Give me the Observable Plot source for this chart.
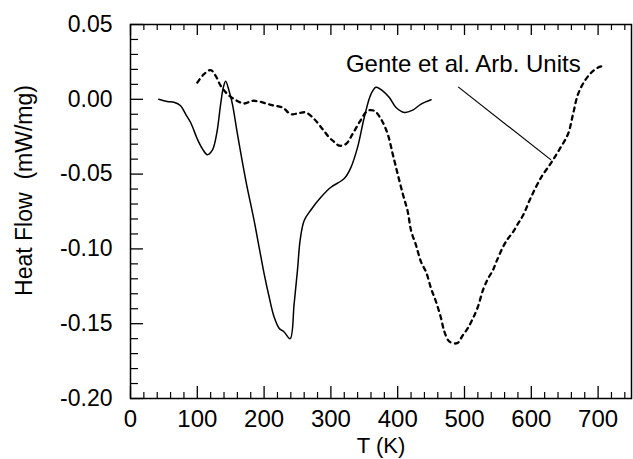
<!DOCTYPE html>
<html>
<head>
<meta charset="utf-8">
<script src="https://cdn.jsdelivr.net/npm/d3@7"></script>
<script src="https://cdn.jsdelivr.net/npm/@observablehq/plot@0.6"></script>
<style>
  html, body { margin: 0; padding: 0; background: white; }
</style>
</head>
<body>
<div id="chart"></div>
<script>
// Measured DSC curve (solid)
const solidT = [42.5, 55, 65, 75, 82.5, 90, 100, 107.5, 115, 122.5, 129, 135, 139, 142.5, 147.5, 152.5, 160, 172.5, 185, 192.5, 200, 207.5, 215, 222.5, 230, 239, 245, 250, 254, 260, 270, 285, 300, 320, 330, 340, 350, 360, 367.5, 377.5, 387.5, 397.5, 410, 422.5, 435, 450];
const solidH = [0, -0.0015, -0.002, -0.0043, -0.0099, -0.0155, -0.0265, -0.033, -0.037, -0.034, -0.023, -0.003, 0.008, 0.012, 0.0057, -0.003, -0.023, -0.054, -0.081, -0.0988, -0.1165, -0.132, -0.1455, -0.153, -0.1555, -0.160, -0.1365, -0.114, -0.094, -0.081, -0.074, -0.0655, -0.0588, -0.053, -0.0455, -0.032, -0.012, 0.0035, 0.008, 0.0057, 0.0012, -0.0055, -0.0088, -0.0072, -0.0032, -0.0003];

// Gente et al. curve (dashed, arbitrary units)
const dashT = [100, 110, 120, 127.5, 135, 145, 157.5, 170, 182.5, 192.5, 210, 227.5, 240, 252.5, 262.5, 275, 287.5, 297.5, 305, 312.5, 322.5, 332.5, 342.5, 355, 365, 375, 385, 392.5, 400, 407.5, 415, 420, 427.5, 435, 442.5, 450, 457.5, 465, 470, 477.5, 489, 497.5, 505, 512.5, 520, 527.5, 535, 542.5, 547.5, 557.5, 565, 572.5, 580, 587.5, 600, 615, 625, 632.5, 642.5, 655, 662.5, 670, 680, 690, 700, 707.5];
const dashH = [0.0112, 0.0168, 0.0195, 0.0157, 0.009, 0.0035, -0.0005, -0.0028, -0.001, -0.0015, -0.0037, -0.0055, -0.0099, -0.0092, -0.0088, -0.0132, -0.0199, -0.0255, -0.0285, -0.031, -0.0299, -0.0232, -0.0155, -0.0077, -0.0077, -0.0132, -0.0232, -0.0365, -0.050, -0.063, -0.075, -0.0877, -0.0977, -0.1088, -0.1155, -0.1265, -0.1355, -0.1465, -0.1555, -0.162, -0.163, -0.1577, -0.153, -0.1465, -0.1388, -0.1277, -0.120, -0.1143, -0.1088, -0.0988, -0.0932, -0.0888, -0.0832, -0.0777, -0.065, -0.052, -0.0455, -0.0405, -0.0332, -0.0232, -0.0099, 0.0035, 0.0123, 0.0179, 0.0212, 0.0223];

// Ticks
const xMajor = [0, 100, 200, 300, 400, 500, 600, 700];
const xMinor = [20, 40, 60, 80, 120, 140, 160, 180, 220, 240, 260, 280, 320, 340, 360, 380, 420, 440, 460, 480, 520, 540, 560, 580, 620, 640, 660, 680, 720, 740];
const yMajor = [0.05, 0, -0.05, -0.10, -0.15, -0.20];
const yMinor = [0.04, 0.03, 0.02, 0.01, -0.01, -0.02, -0.03, -0.04, -0.06, -0.07, -0.08, -0.09, -0.11, -0.12, -0.13, -0.14, -0.16, -0.17, -0.18, -0.19];

// Annotation
const annotation = [{x: 322.5, y: 0.0185, text: "Gente et al. Arb. Units"}];
const pointer = [{x1: 490.5, y1: 0.0083, x2: 629.5, y2: -0.0405}];

const xLabel = "T (K)";
const yLabel = "Heat Flow  (mW/mg)";

const solid = solidT.map((t, i) => ({T: t, H: solidH[i]}));
const dashed = dashT.map((t, i) => ({T: t, H: dashH[i]}));

const W = 633, H = 459, ML = 130, MR = 2, MT = 24, MB = 61;
const FW = W - ML - MR, FH = H - MT - MB;
const FS = 23;

const chart = Plot.plot({
  width: W,
  height: H,
  marginLeft: ML,
  marginRight: MR,
  marginTop: MT,
  marginBottom: MB,
  style: {fontFamily: "'Liberation Sans', Arial, Helvetica, sans-serif", fontSize: FS + "px", background: "white", color: "black"},
  x: {domain: [0, 750]},
  y: {domain: [-0.2, 0.05]},
  marks: [
    // inward ticks bottom
    Plot.tickX(xMajor, {x: d => d, insetTop: FH - 12, stroke: "black", strokeWidth: 1.3}),
    Plot.tickX(xMinor, {x: d => d, insetTop: FH - 6, stroke: "black", strokeWidth: 1.2}),
    // inward ticks top
    Plot.tickX(xMajor, {x: d => d, insetBottom: FH - 11, stroke: "black", strokeWidth: 1.3}),
    Plot.tickX(xMinor, {x: d => d, insetBottom: FH - 6, stroke: "black", strokeWidth: 1.2}),
    // inward ticks left
    Plot.tickY(yMajor, {y: d => d, insetRight: FW - 13, stroke: "black", strokeWidth: 1.3}),
    Plot.tickY(yMinor, {y: d => d, insetRight: FW - 8, stroke: "black", strokeWidth: 1.2}),
    Plot.axisX({ticks: xMajor, tickSize: 0, tickPadding: 11, fontSize: 24, label: null, tickFormat: d => String(d)}),
    Plot.axisY({ticks: yMajor, tickSize: 0, tickPadding: 18, fontSize: FS, label: null, tickFormat: d => d.toFixed(2)}),
    Plot.frame({stroke: "black", strokeWidth: 1.5}),
    Plot.line(solid, {x: "T", y: "H", stroke: "black", strokeWidth: 1.5, curve: "catmull-rom"}),
    Plot.line(dashed, {x: "T", y: "H", stroke: "black", strokeWidth: 2.3, strokeDasharray: "4,4.5", curve: "catmull-rom"}),
    Plot.link(pointer, {x1: "x1", y1: "y1", x2: "x2", y2: "y2", stroke: "black", strokeWidth: 1.2}),
    Plot.text(annotation, {x: "x", y: "y", text: "text", textAnchor: "start", lineAnchor: "bottom", fontSize: 24}),
    Plot.text([xLabel], {frameAnchor: "bottom", dy: 54, lineAnchor: "bottom", fontSize: 22}),
    Plot.text([yLabel], {frameAnchor: "left", rotate: -90, dx: -99, dy: -21, lineAnchor: "bottom", textAnchor: "middle", fontSize: FS})
  ]
});
document.getElementById("chart").appendChild(chart);
</script>
</body>
</html>
